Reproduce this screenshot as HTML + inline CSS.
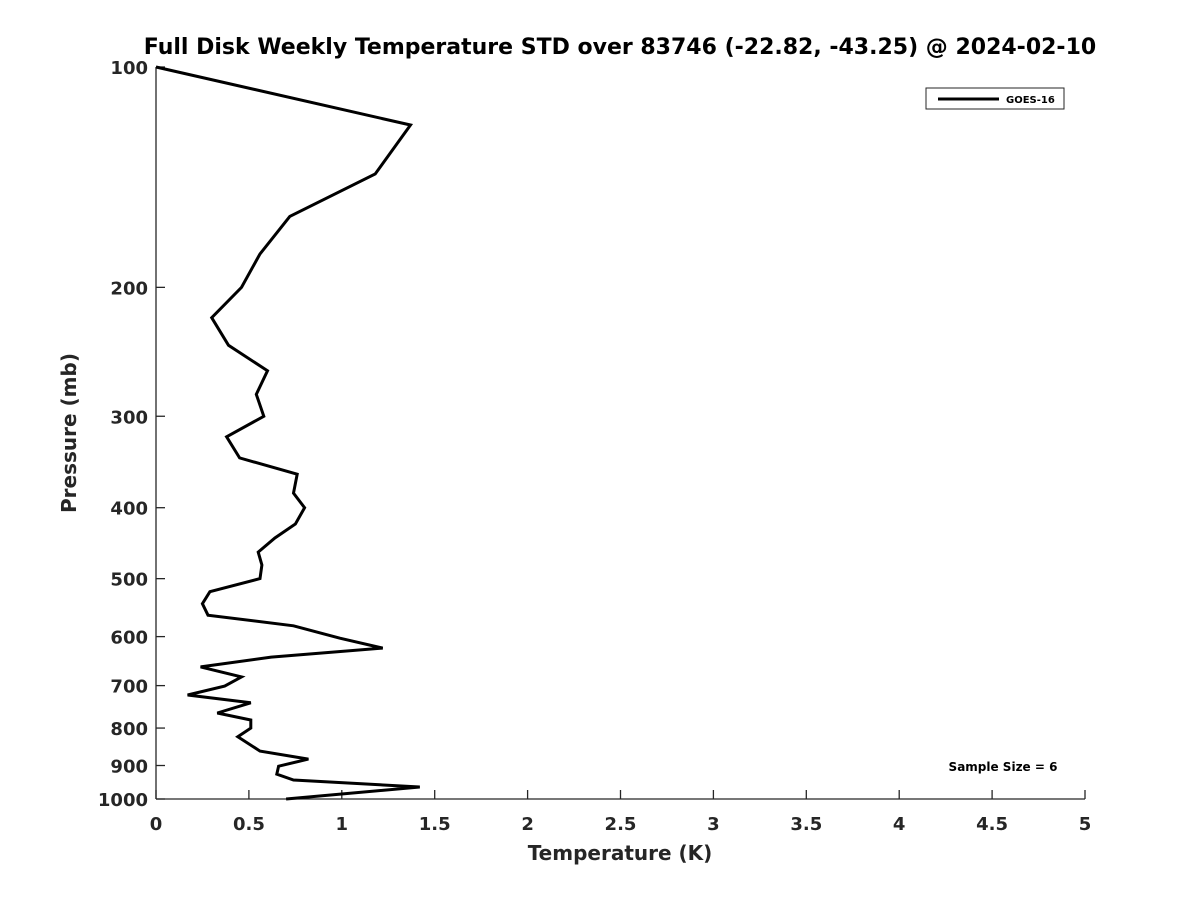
<!DOCTYPE html>
<html><head><meta charset="utf-8"><style>
body{margin:0;background:#fff;}
svg text{font-family:"DejaVu Sans","Liberation Sans",sans-serif;font-weight:bold;fill:#262626;}
</style></head><body>
<svg id="chart" width="1200" height="900" xmlns="http://www.w3.org/2000/svg">
<text x="620" y="54" text-anchor="middle" font-size="22" style="fill:#000">Full Disk Weekly Temperature STD over 83746 (-22.82, -43.25) @ 2024-02-10</text>
<g id="axes"></g>
<polyline id="series" fill="none" stroke="#000" stroke-width="3" stroke-linejoin="miter"/>
<text x="620" y="860" text-anchor="middle" font-size="20">Temperature (K)</text>
<text transform="translate(76,433) rotate(-90)" text-anchor="middle" font-size="20">Pressure (mb)</text>
<g>
<rect x="926" y="88" width="138" height="21" fill="#fff" stroke="#262626" stroke-width="1"/>
<line x1="938" y1="99" x2="999" y2="99" stroke="#000" stroke-width="3"/>
<text x="1006" y="103" font-size="10" style="fill:#000">GOES-16</text>
</g>
<text x="1003" y="771" text-anchor="middle" font-size="12" style="fill:#000">Sample Size = 6</text>
</svg>
<script>
const temps=[0.0,1.37,1.18,0.72,0.56,0.46,0.30,0.39,0.60,0.54,0.58,0.38,0.45,0.76,0.74,0.80,0.75,0.64,0.55,0.57,0.56,0.29,0.25,0.28,0.74,0.99,1.22,0.62,0.24,0.46,0.37,0.17,0.51,0.33,0.51,0.51,0.44,0.56,0.82,0.66,0.65,0.74,1.42,0.70];
const pressures=[100,120,140,160,180,200,220,240,260,280,300,320,342,360,382,400,421,440,460,479,500,521,541,561,580,603,622,640,660,681,701,721,739,763,780,800,822,860,882,902,925,942,963,1000];
const xTicks=[0,0.5,1,1.5,2,2.5,3,3.5,4,4.5,5];
const xTickLabels=["0","0.5","1","1.5","2","2.5","3","3.5","4","4.5","5"];
const yTicks=[100,200,300,400,500,600,700,800,900,1000];
const yTickLabels=["100","200","300","400","500","600","700","800","900","1000"];
const X0=156,X1=1085,Y0=67,Y1=799;
const xs=t=>X0+(t-0)/(5-0)*(X1-X0);
const ys=p=>Y0+(Math.log10(p)-2)/(3-2)*(Y1-Y0);
const NS="http://www.w3.org/2000/svg";
const axes=document.getElementById('axes');
function mk(tag,attrs){const e=document.createElementNS(NS,tag);for(const k in attrs)e.setAttribute(k,attrs[k]);return e;}
const xl=mk('line',{x1:X0,y1:Y1,x2:X1,y2:Y1,stroke:'#262626','stroke-width':1.3});


axes.appendChild(xl);
const yl=mk('line',{x1:X0,y1:Y0,x2:X0,y2:Y1,stroke:'#262626','stroke-width':1.3});


axes.appendChild(yl);
xTicks.forEach((t,i)=>{
  const x=xs(t);
  const tk=mk('line',{x1:x,y1:Y1,x2:x,y2:Y1-9,stroke:'#262626','stroke-width':1.3});
  
  
  axes.appendChild(tk);
  const tx=mk('text',{x:x,y:Y1+31,'text-anchor':'middle','font-size':18});
  tx.textContent=xTickLabels[i];
  
  
  axes.appendChild(tx);
});
yTicks.forEach((p,i)=>{
  const y=ys(p);
  const tk=mk('line',{x1:X0,y1:y,x2:X0+9,y2:y,stroke:'#262626','stroke-width':1.3});
  
  
  axes.appendChild(tk);
  const tx=mk('text',{x:X0-8,y:y+7,'text-anchor':'end','font-size':18});
  tx.textContent=yTickLabels[i];
  
  
  axes.appendChild(tx);
});
document.getElementById('series').setAttribute('points',temps.map((t,i)=>xs(t).toFixed(1)+','+ys(pressures[i]).toFixed(1)).join(' '));
</script>
</body></html>
